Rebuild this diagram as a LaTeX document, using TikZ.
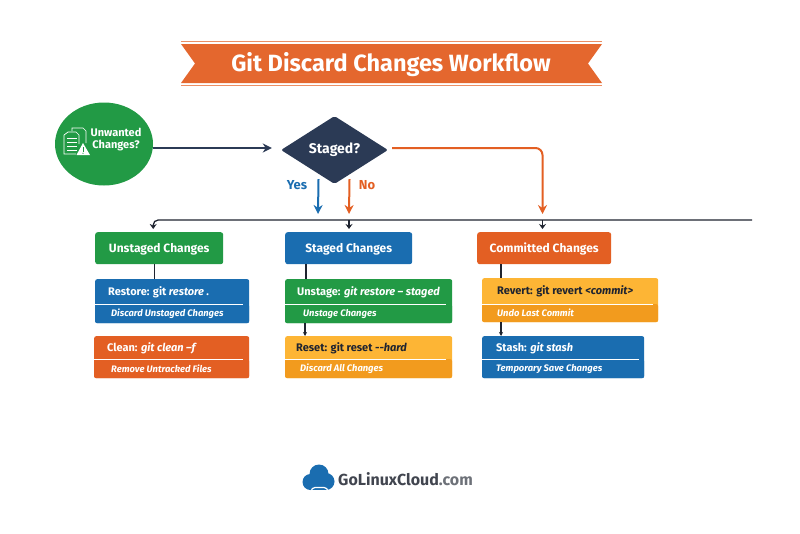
\documentclass[tikz,border=0pt]{standalone}
\usepackage{fontspec}
\setmainfont{Fira Sans}
\usetikzlibrary{arrows.meta,shapes.geometric}

\definecolor{gitgreen}{HTML}{229A45}
\definecolor{gitblue}{HTML}{1A6DB0}
\definecolor{gitorange}{HTML}{E35F23}
\definecolor{gityellow}{HTML}{FDB535}
\definecolor{gitamber}{HTML}{F29B1E}
\definecolor{gitnavy}{HTML}{2B3A55}
\definecolor{gitink}{HTML}{1F2430}

\newcommand{\HeadTop}{232}
\newcommand{\HeadHeight}{32}
\newcommand{\BusY}{220}

\tikzset{
  headbox/.style={anchor=north west,rounded corners=2.5,inner sep=0,text=white,
    minimum height=\HeadHeight,text height=9,text depth=0,font=\fontsize{12}{14}\bfseries},
  actionbox/.style={anchor=north west,rounded corners=2,inner sep=0},
  maintext/.style={anchor=west,inner sep=0,yshift=-0.5,font=\fontsize{11}{13}\bfseries},
  subtext/.style={anchor=west,inner sep=0,text=white,font=\fontsize{9.4}{11}\bfseries\itshape},
  flow/.style={line width=2,-{Stealth[length=9,width=9]}},
  bus/.style={line width=1.3,gitink,-{Stealth[length=5,width=7]},shorten >=3},
  link/.style={line width=1.1,gitink}
}

\begin{document}
\begin{tikzpicture}[x=1pt,y=-1pt]
\useasboundingbox (0,0) rectangle (800,533);

% Title ribbon
\fill[gitorange!95!white] (181,44) -- (602,44) -- (588,63.5) -- (602,83) -- (181,83) -- (195,63.5) -- cycle;
\draw[gitorange!70!white,line width=0.8] (181,41.5) -- (602,41.5);
\draw[gitorange!70!white,line width=0.8] (181,85.5) -- (602,85.5);
\node[inner sep=0,text=white,font=\fontsize{23.5}{26}\bfseries] (title) at (391,65) {Git Discard Changes Workflow};

% Start and decision
\node[ellipse,fill=gitgreen,minimum width=98,minimum height=83,inner sep=0] (start) at (104,144) {};
\node[inner sep=0,text=white,font=\fontsize{11}{12}\bfseries] (startA) at (116,132) {Unwanted};
\node[inner sep=0,text=white,font=\fontsize{11}{12}\bfseries] (startB) at (116,146) {Changes?};
\node[diamond,fill=gitnavy,aspect=1.59,minimum width=107,minimum height=68,inner sep=0,rounded corners=2,
  text=white,font=\fontsize{14}{15}\bfseries] (staged) at (334.5,150) {Staged?};

% Document icon in the start circle
\draw[white,line width=0.7] (72,131) -- (72,128) -- (83,128) -- (86,131) -- (86,143);
\draw[white,line width=0.7] (68,132) -- (76,132) -- (79,135) -- (79,144);
\draw[white,line width=0.7] (76,154) -- (64,154) -- (64,135) -- (68,132);
\foreach \y in {138,142,146,150}{
    \draw[white,line width=0.7] (67,\y) -- (77,\y);
}
\fill[white] (83,143) -- (90,155) -- (76.5,155) -- cycle;
\draw[gitgreen,line width=0.9] (83,147) -- (83,151.5);
\fill[gitgreen] (83,153.2) circle (0.6);

% Header boxes
\node[headbox,fill=gitgreen,minimum width=128] (unstaged) at (95,\HeadTop) {Unstaged Changes};
\node[headbox,fill=gitblue,minimum width=127] (stagedbox) at (285,\HeadTop) {Staged Changes};
\node[headbox,fill=gitorange,minimum width=134] (committed) at (477,\HeadTop) {Committed Changes};

% Action boxes
\foreach \n/\xl/\yt/\w/\h/\top/\low/\sep/\xe/\xa/\xb/\ink/\main/\sub in {
    restore/95/279/154/44/gitblue/gitblue/304/243/108/111/white/{Restore: git \textit{restore .}}/{Discard Unstaged Changes},
    clean/94/336/155/42/gitorange/gitorange/359/243/107/111/white/{Clean: \textit{git clean –f}}/{Remove Untracked Files},
    unstage/285/279/167/44/gitgreen/gitgreen/304/446/297/303/white/{Unstage: \textit{git restore – staged}}/{Unstage Changes},
    reset/285/336/167/42/gityellow/gitamber/359/446/296/300/gitink/{Reset: git reset \textit{{-}{-}hard}}/{Discard All Changes},
    revert/482/278/176/44/gityellow/gitamber/304/653/497/497/gitink/{Revert: git revert \textit{<commit>}}/{Undo Last Commit},
    stash/482/336/162/42/gitblue/gitblue/359/639/496/496/white/{Stash: \textit{git stash}}/{Temporary Save Changes}}{
    \node[actionbox,fill=\top,minimum width=\w,minimum height=\h] (\n) at (\xl,\yt) {};
    \fill[\low,rounded corners=2] (\xl,\sep) rectangle (\xl+\w,\yt+\h);
    \draw[white,line width=0.9] (\xl,\sep) -- (\xe,\sep);
    \node[maintext,text=\ink] (\n-main) at (\xa,\sep/2+\yt/2) {\main};
    \node[subtext] (\n-sub) at (\xb,\sep/2+\yt/2+\h/2) {\sub};
}

% Flow from start to the bus
\coordinate (yesend) at (318,214);
\coordinate (noend) at (349,214);
\coordinate (commitend) at (542.5,214);
\coordinate (busend) at (752,\BusY);
\coordinate (flowrow) at (0,148);
\draw[flow,gitnavy] (start.east |- flowrow) -- ([xshift=-9]staged.west |- flowrow);
\draw[flow,gitblue] ([xshift=-16,yshift=5]staged.south) -- (yesend);
\draw[flow,gitorange] ([xshift=15,yshift=5]staged.south) -- (noend);
\draw[flow,gitorange,rounded corners=7] ([xshift=4]staged.east |- flowrow) -- (commitend |- flowrow) -- (commitend);
\node[inner sep=0,text=gitblue,font=\fontsize{13}{14}\bfseries] (yes) at (297,185) {Yes};
\node[inner sep=0,text=gitorange,font=\fontsize{13}{14}\bfseries] (no) at (367,185) {No};

% Bus down to the headers
\draw[bus,rounded corners=5] (busend) -- ([xshift=-6]unstaged.north |- busend) -- ([xshift=-6]unstaged.north);
\draw[bus] (noend |- busend) -- (noend |- stagedbox.north);
\draw[bus] (commitend |- busend) -- (commitend |- committed.north);

% Links between the boxes
\coordinate (linkA) at (306,0);
\coordinate (linkB) at (305,0);
\coordinate (linkC) at (501,0);
\draw[link] ([xshift=-5]unstaged.south) -- ([xshift=-5]unstaged.south |- restore.north);
\draw[link] (linkA |- stagedbox.south) -- (linkA |- unstage.north);
\draw[link] (linkC |- committed.south) -- (linkC |- revert.north);
\draw[link,-{Stealth[length=4,width=4]}] (linkB |- unstage.south) -- (linkB |- reset.north);
\draw[link,-{Stealth[length=4,width=4]}] (linkC |- revert.south) -- (linkC |- stash.north);

% Logo
\fill[gitblue] (319,474) circle (9.5);
\fill[gitblue] (310.5,482) circle (8);
\fill[gitblue] (326,481.5) circle (8.5);
\fill[gitblue] (310.5,484) rectangle (326,490);
\draw[white,line width=1.2] (315,487.5) arc (270:90:3.8) arc (170:10:4.6) arc (90:-90:3.8) -- cycle;
\node[inner sep=0,anchor=west,text=gitink!85!white,font=\fontsize{16}{18}\bfseries] (logo) at (338,479.5) {GoLinuxCloud\textcolor{gitink!65!white}{.com}};
\end{tikzpicture}
\end{document}
